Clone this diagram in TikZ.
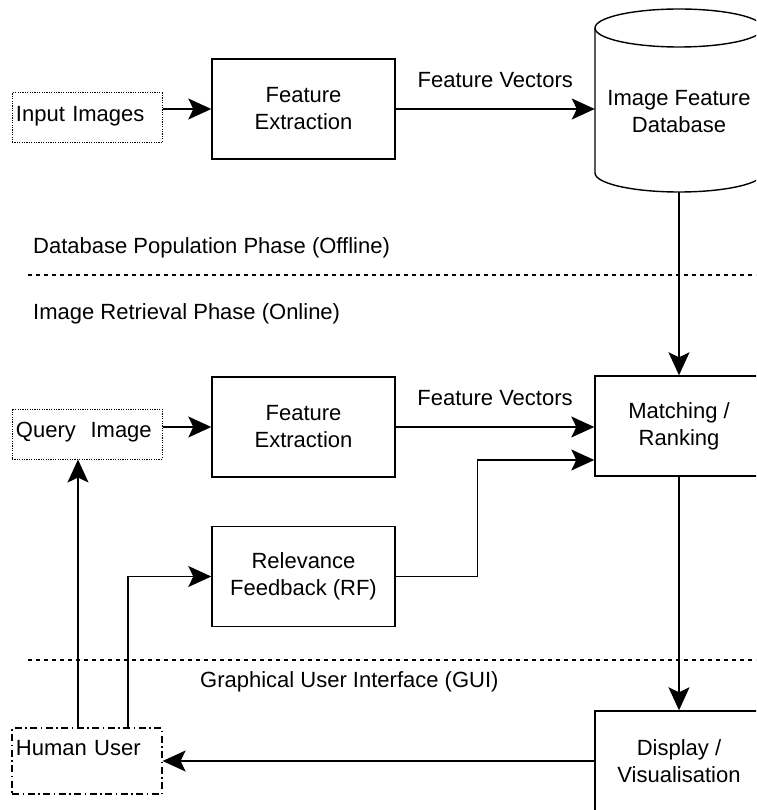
\documentclass[tikz,border=0pt]{standalone}
\usepackage{fontspec}
\setmainfont{Liberation Sans}
\usetikzlibrary{arrows.meta}

\begin{document}
\begin{tikzpicture}[x=1pt, y=-1pt]
    \tikzset{every node/.style = {font=\fontsize{22}{27}\selectfont}}
    \tikzset{block/.style = {shape=rectangle, draw, line width=1.4pt, minimum width=183pt, minimum height=100pt, align=center}}
    \tikzset{srcbox/.style = {shape=rectangle, draw, line width=1pt, dash pattern=on 1.2pt off 1.2pt, minimum height=50pt, inner xsep=4pt, text width=142pt, align=left}}
    \tikzset{userbox/.style = {srcbox, line width=1.2pt, dash pattern=on 7pt off 3.5pt on 1.5pt off 3.5pt, minimum height=66pt}}
    \tikzset{edge/.style = {draw, line width=1.4pt, -{Stealth[length=23pt, width=21pt, inset=5pt]}}}
    \tikzset{divider/.style = {line width=1.2pt, dash pattern=on 4pt off 4pt}}
    \tikzset{phase/.style = {anchor=west, inner sep=0pt}}

    \useasboundingbox (0,0) rectangle (756,810);
    \clip (0,0) rectangle (756,810);

    % vertices
    \node[srcbox] (input) at (87,118) {\raisebox{2pt}[\height][\depth]{Input Images}};
    \node[block] (fe) at (303.5,109) {Feature\\Extraction};
    \node[minimum width=168pt, align=center] (db) at (679,112) {Image Feature\\Database};
    \coordinate (dbout) at (679,192);
    \node[srcbox] (query) at (87,434) {\raisebox{2pt}[\height][\depth]{Query~~Image}};
    \node[block] (fe2) at (303.5,427) {Feature\\Extraction};
    \node[block] (rf) at (303.5,576.5) {Relevance\\Feedback (RF)};
    \node[block, minimum width=168pt] (match) at (679,426) {Matching /\\Ranking};
    \node[block, minimum width=168pt] (display) at (679,761) {Display /\\Visualisation};
    \node[userbox] (human) at (87,761) {\raisebox{12.5pt}[\height][\depth]{Human User}};

    % database cylinder
    \draw[line width=1.4pt] (679,28) ellipse [x radius=84pt, y radius=19pt];
    \draw[line width=1.4pt] (595,28) -- (595,173) arc [start angle=180, end angle=360, x radius=84pt, y radius=19pt] -- (763,28);

    % phases
    \node[phase] (offline) at (33,248) {Database Population Phase (Offline)};
    \draw[divider] (28,275) -- (756,275);
    \node[phase] (online) at (33,314) {Image Retrieval Phase (Online)};
    \draw[divider] (28,660) -- (756,660);
    \node[phase] (gui) at (200,682) {Graphical User Interface (GUI)};

    % edges
    \draw[edge] (fe -| input.east) -- (fe.west);
    \draw[edge] (fe.east) -- node[midway, above=17pt]{Feature Vectors} (fe -| db.west);
    \draw[edge] (dbout) -- (match.north);
    \draw[edge] (fe2 -| query.east) -- (fe2.west);
    \draw[edge] (fe2.east) -- node[midway, above=17pt]{Feature Vectors} (fe2 -| match.west);
    \draw[edge] (rf.east) -| ([xshift=-117pt, yshift=-34pt]match.west) -- ([yshift=-34pt]match.west);
    \draw[edge] (match.south) -- (display.north);
    \draw[edge] (display.west) -- (display -| human.east);
    \draw[edge] ([xshift=-9pt]human.north) -- ([xshift=-9pt]query.south);
    \draw[edge] ([xshift=41pt]human.north) |- (rf.west);
\end{tikzpicture}
\end{document}
